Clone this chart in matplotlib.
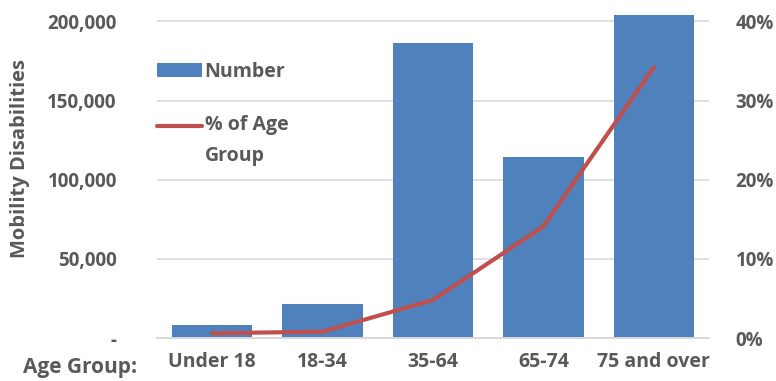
import matplotlib.pyplot as plt
from matplotlib.legend_handler import HandlerLine2D
from matplotlib.ticker import FuncFormatter

# age groups and mobility disability counts / shares
groups = ["Under 18", "18-34", "35-64", "65-74", "75 and over"]
number = [8500, 21500, 186500, 114500, 204000]
pct_of_group = [0.006, 0.008, 0.048, 0.141, 0.342]

BAR_COLOR = "#4F81BD"
LINE_COLOR = "#C0504D"
TEXT_COLOR = "#595959"
GRID_COLOR = "#D9D9D9"

plt.rcParams["font.family"] = ["Open Sans", "DejaVu Sans"]
plt.rcParams["font.weight"] = "bold"
plt.rcParams["axes.labelweight"] = "bold"
plt.rcParams["font.size"] = 14


class RaisedLine(HandlerLine2D):
    # keep the legend line level with the first row of a two-line label
    def create_artists(self, legend, orig_handle, xdescent, ydescent,
                       width, height, fontsize, trans):
        artists = super().create_artists(legend, orig_handle, xdescent, ydescent,
                                         width, height, fontsize, trans)
        for a in artists:
            y = a.get_ydata()
            a.set_ydata([v + 0.8 * fontsize for v in y])
        return artists


def main():
    fig = plt.figure(figsize=(7.76, 3.81), dpi=100)
    ax = fig.add_axes([157 / 776, 43 / 381, 552 / 776, 323 / 381])
    ax2 = ax.twinx()

    x = range(len(groups))
    bars = ax.bar(x, number, width=0.73, color=BAR_COLOR, zorder=2, label="Number")
    line, = ax2.plot(x, pct_of_group, color=LINE_COLOR, lw=3, solid_capstyle="round",
                     label="% of Age\nGroup", zorder=3)

    ax.set_xlim(-0.5, len(groups) - 0.5)
    ax.set_ylim(0, 204000)
    ax2.set_ylim(0, 0.408)
    ax.set_yticks([0, 50000, 100000, 150000, 200000])
    ax2.set_yticks([0, 0.1, 0.2, 0.3, 0.4])
    ax.yaxis.set_major_formatter(FuncFormatter(lambda v, p: "-" if v == 0 else f"{v:,.0f}"))
    ax2.yaxis.set_major_formatter(FuncFormatter(lambda v, p: f"{v:.0%}"))

    ax.set_xticks(list(x))
    ax.set_xticklabels(groups)
    ax.grid(axis="y", color=GRID_COLOR, lw=1.2, zorder=0)
    ax.set_axisbelow(True)
    for a in (ax, ax2):
        for s in ("top", "left", "right"):
            a.spines[s].set_visible(False)
        a.spines["bottom"].set_color(GRID_COLOR)
        a.spines["bottom"].set_linewidth(1.2)
    ax.tick_params(axis="y", length=0, pad=29, colors=TEXT_COLOR, labelsize=13.5)
    ax2.tick_params(axis="y", length=0, pad=19, colors=TEXT_COLOR, labelsize=13.5)
    ax.tick_params(axis="x", length=0, pad=10, colors=TEXT_COLOR)
    for lbl in ax.get_xticklabels() + ax.get_yticklabels() + ax2.get_yticklabels():
        lbl.set_fontweight("bold")
    ax.set_ylabel("Mobility Disabilities", color=TEXT_COLOR, fontweight="bold",
                  fontsize=14.5)
    ax.yaxis.set_label_coords(-127 / 552, 0.557)
    fig.text(137 / 776, 13 / 381, "Age Group:", ha="right", va="center",
             color=TEXT_COLOR, fontweight="bold", fontsize=15)

    leg = ax2.legend([bars, line], ["Number", "% of Age\nGroup"], loc="upper left",
                     bbox_to_anchor=(0, 0.855), frameon=False, borderpad=0,
                     borderaxespad=0, handlelength=2.3, handletextpad=0.15,
                     labelspacing=1.7, handler_map={line: RaisedLine()},
                     prop={"weight": "bold"})
    for t in leg.get_texts():
        t.set_color(TEXT_COLOR)
        t.set_linespacing(1.75)
    leg.set_zorder(5)

    fig.savefig("out.png", dpi=100)


if __name__ == "__main__":
    main()
